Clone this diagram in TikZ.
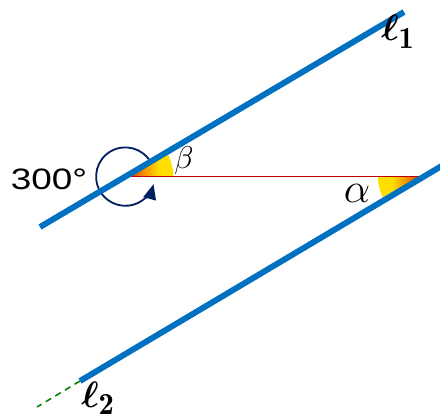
\documentclass[tikz,border=0pt]{standalone}
\usepackage{amsmath}
\usepackage{amssymb}
\usepackage{fontspec}
\usepackage{xcolor}
\usepackage{tikz}
\usetikzlibrary{arrows.meta}
\newfontfamily\degfont{Liberation Sans}
\definecolor{lineblue}{RGB}{0,112,192}
\definecolor{cutred}{RGB}{192,0,0}
\definecolor{turnnavy}{RGB}{0,32,96}
\definecolor{extgreen}{RGB}{0,128,0}
\definecolor{wedgered}{RGB}{200,55,0}
\definecolor{wedgeorange}{RGB}{245,150,0}
\definecolor{wedgeyellow}{RGB}{255,222,0}
\pgfdeclarehorizontalshading{wedgeshade}{100bp}{color(0bp)=(wedgered); color(28bp)=(wedgered);
  color(45bp)=(wedgeorange); color(60bp)=(wedgeyellow); color(100bp)=(wedgeyellow)}

\begin{document}
\begin{tikzpicture}[
  par/.style={draw=lineblue, line width=4.2pt},
  cut/.style={draw=cutred, line width=1.1pt},
  turn/.style={draw=turnnavy, line width=1.3pt, -{Triangle[length=3.8mm, width=3.2mm]}},
  ext/.style={draw=extgreen, line width=1.1pt, dash pattern=on 4.5pt off 3.5pt},
  lab/.style={inner sep=0pt}]
\useasboundingbox (0,0) rectangle (11,10.475);
\coordinate (a1) at (1.0,4.8);
\coordinate (b1) at (10.1,10.175);
\coordinate (v) at (3.133,6.06);
\coordinate (a2) at (2.0,0.95);
\coordinate (b2) at (11.15,6.39);
\coordinate (w) at (10.6,6.06);
\coordinate (e2) at (0.925,0.3);
% angle marks
\shade[shading=wedgeshade]
  (v) -- ++(0:1.2) arc[start angle=0, end angle=30.6, radius=1.2] -- cycle;
\shade[shading=wedgeshade, shading angle=180]
  (w) -- ++(180:1.15) arc[start angle=180, end angle=210.6, radius=1.15] -- cycle;
\draw[cut] (v) -- (w);
\draw[turn] (v) ++(30:0.73) arc[start angle=30, end angle=345, radius=0.73];
% the two parallels
\draw[par] (a1) -- (b1);
\draw[par] (a2) -- (b2);
\draw[ext] (a2) -- (e2);
\node[lab] (deg) at (1.225,5.98) {\degfont\fontsize{21}{24}\selectfont\scalebox{1.25}[1]{300°}};
\node[lab] (beta) at (4.6,6.45) {\LARGE\scalebox{1.3}{$\beta$}};
\node[lab] (alpha) at (8.925,5.64) {\Huge\scalebox{1.2}{$\alpha$}};
\node[lab] (l1) at (9.95,9.68) {\Huge\scalebox{1.05}{$\boldsymbol{\ell}_{\mathbf{1}}$}};
\node[lab] (l2) at (2.45,0.52) {\Huge\scalebox{1.05}{$\boldsymbol{\ell}_{\mathbf{2}}$}};
\end{tikzpicture}
\end{document}
